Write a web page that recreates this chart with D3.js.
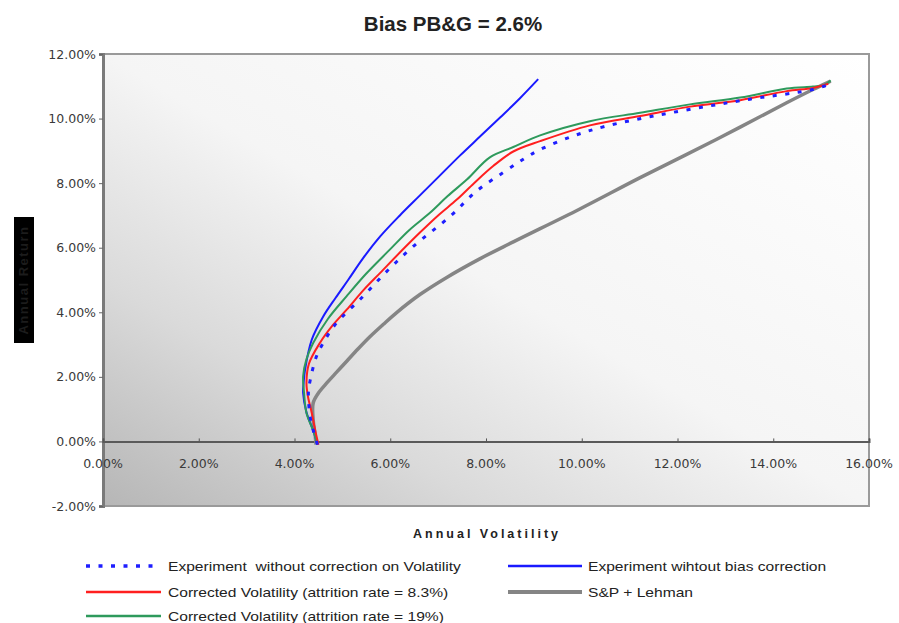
<!DOCTYPE html>
<html>
<head>
<meta charset="utf-8">
<script src="https://cdn.jsdelivr.net/npm/d3@7"></script>
<style>
  html, body { margin: 0; padding: 0; background: #fff; }
  svg { display: block; }
</style>
</head>
<body>
<svg id="chart" width="899" height="623"></svg>
<script>
// Efficient frontiers: annual volatility (%) vs annual return (%)
const expNoVolCorrection = [
  [4.48,-0.10],[4.40,0.30],[4.33,0.73],[4.29,1.51],[4.33,1.91],[4.46,2.64],[4.60,3.05],
  [4.85,3.62],[5.43,4.49],[5.95,5.30],[6.48,6.04],[7.25,6.97],[7.80,7.75],[8.36,8.33],
  [8.77,8.73],[9.13,9.04],[9.82,9.46],[10.52,9.77],[11.57,10.10],[12.66,10.39],
  [13.51,10.60],[14.83,10.90],[15.15,11.05]
];
const expNoBiasCorrection = [
  [4.48,-0.10],[4.40,0.30],[4.25,0.90],[4.18,1.50],[4.19,1.80],[4.22,2.22],[4.36,3.15],
  [4.60,3.87],[4.86,4.45],[5.12,5.00],[5.43,5.67],[5.79,6.35],[6.20,7.00],[6.62,7.62],
  [7.04,8.24],[7.46,8.86],[7.88,9.45],[8.30,10.04],[8.71,10.63],[9.09,11.22]
];
const corrected83 = [
  [4.50,-0.10],[4.43,0.36],[4.36,0.89],[4.28,1.40],[4.25,1.82],[4.30,2.40],[4.53,3.05],
  [4.80,3.60],[5.09,4.08],[5.45,4.70],[5.79,5.22],[6.20,5.85],[6.62,6.47],[7.00,7.00],
  [7.39,7.49],[7.75,8.00],[8.15,8.53],[8.57,8.98],[9.13,9.30],[10.17,9.79],[11.22,10.08],
  [12.26,10.37],[13.31,10.57],[14.28,10.85],[14.83,10.95],[15.15,11.08]
];
const corrected19 = [
  [4.48,-0.10],[4.40,0.30],[4.25,0.88],[4.20,1.50],[4.18,2.02],[4.25,2.55],[4.39,3.05],
  [4.70,3.80],[5.09,4.50],[5.50,5.20],[5.99,5.94],[6.40,6.55],[6.83,7.08],[7.20,7.60],
  [7.60,8.11],[8.08,8.80],[8.57,9.12],[9.13,9.48],[10.17,9.92],[11.22,10.18],
  [12.26,10.44],[13.31,10.65],[14.28,10.93],[14.83,10.99],[15.05,11.03],[15.20,11.18]
];
const spLehman = [
  [4.45,-0.10],[4.43,0.21],[4.39,0.67],[4.39,1.19],[4.50,1.50],[4.68,1.82],[4.89,2.16],
  [5.10,2.50],[5.33,2.87],[5.58,3.25],[5.85,3.62],[6.14,4.00],[6.62,4.55],[7.18,5.08],
  [7.85,5.64],[8.57,6.18],[9.96,7.20],[11.22,8.17],[12.82,9.36],[14.28,10.49],
  [14.83,10.90],[15.20,11.16]
];

const xTicks = [0, 2, 4, 6, 8, 10, 12, 14, 16];
const yTicks = [-2, 0, 2, 4, 6, 8, 10, 12];

const titleText = "Bias PB&G = 2.6%";
const xTitle = "Annual Volatility";
const yTitle = "Annual Return";

const series = [
  { name: "Experiment  without correction on Volatility", data: expNoVolCorrection, color: "#1e1eff", width: 3, dash: "4,8.5", col: 0, row: 0 },
  { name: "Experiment wihtout bias correction", data: expNoBiasCorrection, color: "#1a1aff", width: 2, dash: null, col: 1, row: 0 },
  { name: "Corrected Volatility (attrition rate = 8.3%)", data: corrected83, color: "#ff1f1f", width: 2, dash: null, col: 0, row: 1 },
  { name: "S&P + Lehman", data: spLehman, color: "#858585", width: 3.5, dash: null, col: 1, row: 1 },
  { name: "Corrected Volatility (attrition rate = 19%)", data: corrected19, color: "#2e9a5c", width: 2, dash: null, col: 0, row: 2 }
];
// draw order: grey benchmark first, dotted series last
const drawOrder = [3, 1, 4, 2, 0];

const svg = d3.select("#chart");
const plot = { left: 103, top: 54, right: 869, bottom: 506 };

const x = d3.scaleLinear().domain([0, 16]).range([plot.left, plot.right]);
const y = d3.scaleLinear().domain([-2, 12]).range([plot.bottom, plot.top]);

// percent labels with a plain hyphen for negatives
const pct = d => (d < 0 ? "-" : "") + Math.abs(d).toFixed(2) + "%";

// plot-area shading
const defs = svg.append("defs");
const grad = defs.append("linearGradient").attr("id", "plotBg")
  .attr("x1", 0).attr("y1", 1).attr("x2", 1).attr("y2", 0);
grad.append("stop").attr("offset", 0).attr("stop-color", "#b6b6b6");
grad.append("stop").attr("offset", 0.25).attr("stop-color", "#dadada");
grad.append("stop").attr("offset", 0.5).attr("stop-color", "#f5f5f5");
grad.append("stop").attr("offset", 1).attr("stop-color", "#ffffff");

svg.append("rect")
  .attr("x", plot.left).attr("y", plot.top)
  .attr("width", plot.right - plot.left).attr("height", plot.bottom - plot.top)
  .attr("fill", "url(#plotBg)")
  .attr("stroke", "#9a9a9a").attr("stroke-width", 2);

// left value axis
const yAxis = d3.axisLeft(y).tickValues(yTicks).tickSize(4).tickFormat(pct);
const gy = svg.append("g").attr("transform", `translate(${plot.left},0)`).call(yAxis);
gy.select(".domain").attr("stroke", "#7a7a7a").attr("stroke-width", 3);
gy.selectAll(".tick line").attr("stroke", "#666");
gy.selectAll(".tick text")
  .attr("font-family", "'DejaVu Sans', Verdana, sans-serif")
  .attr("font-size", "12.5px").attr("fill", "#3a3a3a").attr("x", -7);

// horizontal axis crossing at zero return
const xAxis = d3.axisTop(x).tickValues(xTicks).tickSize(3).tickFormat(() => "");
const gx = svg.append("g").attr("transform", `translate(0,${y(0)})`).call(xAxis);
gx.select(".domain").attr("stroke", "#5a5a5a").attr("stroke-width", 2);
gx.selectAll(".tick line").attr("stroke", "#555");

svg.append("g").selectAll("text").data(xTicks).join("text")
  .attr("x", d => x(d)).attr("y", y(0) + 27)
  .attr("text-anchor", "middle")
  .attr("font-family", "'DejaVu Sans', Verdana, sans-serif")
  .attr("font-size", "12.5px").attr("fill", "#3a3a3a")
  .text(pct);

// curves
const line = d3.line().x(d => x(d[0])).y(d => y(d[1])).curve(d3.curveCatmullRom.alpha(0.5));
const gLines = svg.append("g");
drawOrder.forEach(i => {
  const s = series[i];
  gLines.append("path")
    .attr("d", line(s.data))
    .attr("fill", "none")
    .attr("stroke", s.color)
    .attr("stroke-width", s.width)
    .attr("stroke-dasharray", s.dash)
    .attr("stroke-linejoin", "round");
});

// title
svg.append("text")
  .attr("x", 453).attr("y", 31).attr("text-anchor", "middle")
  .attr("font-family", "'Liberation Sans', Arial, sans-serif")
  .attr("font-weight", "bold").attr("font-size", "20.5px").attr("fill", "#222")
  .text(titleText);

// x axis title
svg.append("text")
  .attr("x", 487).attr("y", 538).attr("text-anchor", "middle")
  .attr("font-family", "'Liberation Sans', Arial, sans-serif")
  .attr("font-weight", "bold").attr("font-size", "12.5px").attr("fill", "#222")
  .attr("letter-spacing", "3px")
  .text(xTitle);

// y axis title on a dark tag
const yTag = svg.append("g");
yTag.append("rect").attr("x", 14).attr("y", 217).attr("width", 20).attr("height", 126).attr("fill", "#000");
yTag.append("text")
  .attr("transform", "translate(28,280) rotate(-90)")
  .attr("text-anchor", "middle")
  .attr("font-family", "'Liberation Sans', Arial, sans-serif")
  .attr("font-weight", "bold").attr("font-size", "13px").attr("fill", "#1c1c1c")
  .attr("letter-spacing", "1.5px")
  .text(yTitle);

// legend
const legendCols = [{ x0: 86, x1: 161, tx: 168 }, { x0: 508, x1: 582, tx: 588 }];
const legendRows = [566, 592, 616];
const lg = svg.append("g");
series.forEach(s => {
  const c = legendCols[s.col], ry = legendRows[s.row];
  lg.append("line")
    .attr("x1", c.x0).attr("x2", c.x1).attr("y1", ry).attr("y2", ry)
    .attr("stroke", s.color).attr("stroke-width", s.width === 3.5 ? 4 : (s.dash ? 3.5 : 2.5))
    .attr("stroke-dasharray", s.dash);
  lg.append("text")
    .attr("transform", `translate(${c.tx},${ry + 4.5}) scale(1.2,1)`)
    .attr("font-family", "'Liberation Sans', Arial, sans-serif")
    .attr("font-size", "13px").attr("fill", "#222")
    .attr("xml:space", "preserve")
    .text(s.name);
});
</script>
</body>
</html>
